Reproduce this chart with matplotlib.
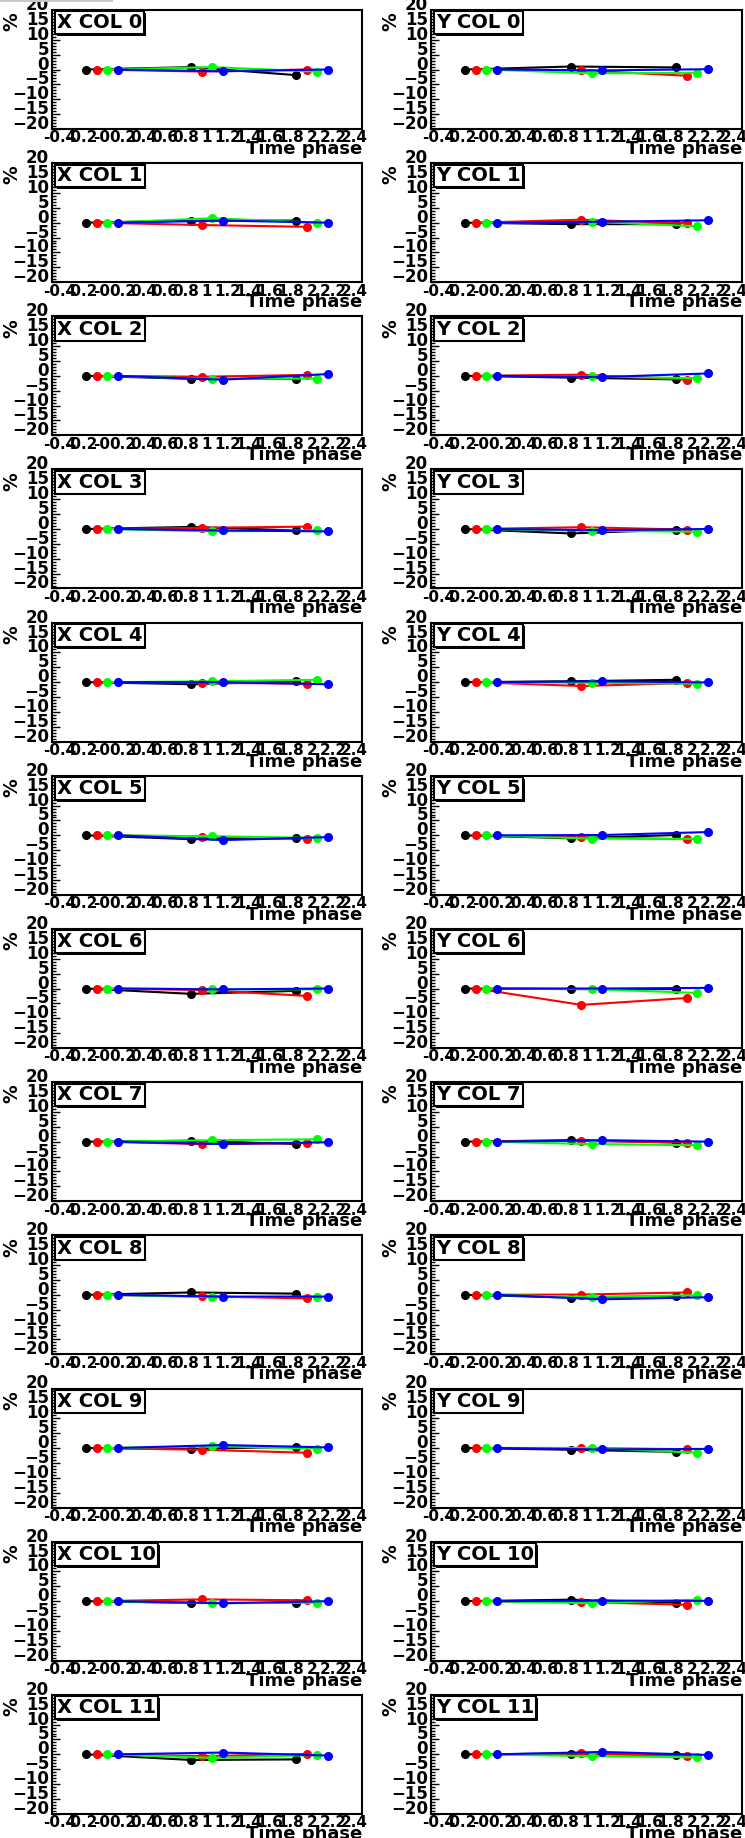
import numpy as np
import matplotlib.pyplot as plt
import matplotlib.patheffects as pe
from matplotlib.patches import Rectangle

plt.rcParams['font.family'] = 'DejaVu Sans'
plt.rcParams['font.weight'] = 'bold'

# time phases and the shift of each series inside a phase group
phases = np.array([0, 1, 2])
shifts = [-0.15, -0.05, 0.05, 0.15]
colors = ['black', '#ff0000', '#00ff00', '#0000ff']

# values in % for each column (phase 0, 1, 2)
x_black = [[0, 0.8, -1.9], [0, 0.7, 0.7], [0, -1.0, -1.0], [0, 0.7, -0.5],
           [0, -0.7, 0.3], [0, -1.3, -1.0], [0, -1.8, -0.8], [0, 0.3, -0.8],
           [0, 0.8, 0.4], [0, -0.3, 0.4], [0, -0.6, -0.6], [0, -1.9, -1.7]]
x_red = [[0, -0.7, 0.0], [0, -0.8, -1.4], [0, -0.3, 0.3], [0, 0.4, 0.8],
         [0, -0.2, -0.5], [0, -0.4, -1.1], [0, -0.5, -2.5], [0, -0.8, -0.5],
         [0, -0.5, -1.2], [0, -0.6, -1.6], [0, 0.6, 0.3], [0, -0.6, 0.1]]
x_green = [[0, 0.8, -0.7], [0, 1.5, 0.0], [0, -1.0, -0.9], [0, -0.8, -0.5],
           [0, 0.3, 0.8], [0, -0.3, -0.9], [0, -0.2, -0.3], [0, 0.5, 0.8],
           [0, -0.8, -0.6], [0, 0.6, -0.2], [0, -0.7, -0.5], [0, -1.2, -0.2]]
x_blue = [[0, -0.6, 0.0], [0, 0.7, 0.0], [0, -1.3, 0.6], [0, -0.5, -0.8],
          [0, 0.0, -0.7], [0, -1.6, -0.6], [0, -0.3, 0.0], [0, -0.8, -0.2],
          [0, -0.6, -0.6], [0, 1.0, 0.2], [0, -0.7, 0.0], [0, 0.6, -0.4]]

y_black = [[0, 1.0, 0.7], [0, -0.5, -0.5], [0, -0.6, -1.2], [0, -1.5, -0.2],
           [0, 0.3, 0.8], [0, -1.0, 0.1], [0, -0.2, -0.2], [0, 0.5, -0.3],
           [0, -0.9, -0.4], [0, -0.6, -1.3], [0, 0.5, -0.5], [0, 0.2, -0.2]]
y_red = [[0, -0.3, -2.1], [0, 1.0, -0.2], [0, 0.4, -1.3], [0, 0.6, -0.2],
         [0, -1.3, -0.3], [0, -0.7, -1.3], [0, -5.5, -3.2], [0, 0.3, -0.3],
         [0, 0.1, 0.8], [0, 0.0, -0.4], [0, -0.3, -1.2], [0, 0.3, -0.6]]
y_green = [[0, -1.3, -1.1], [0, 0.3, -1.2], [0, -0.2, -0.8], [0, -0.6, -0.9],
           [0, -0.2, -0.5], [0, -1.1, -1.2], [0, -0.2, -1.5], [0, -0.8, -1.2],
           [0, -0.7, -0.1], [0, 0.0, -1.6], [0, -0.7, 0.5], [0, -0.6, -1.0]]
y_blue = [[0, -0.3, 0.1], [0, 0.3, 0.8], [0, -0.4, 0.8], [0, -0.4, 0.0],
          [0, 0.3, -0.1], [0, 0.1, 1.1], [0, 0.0, 0.2], [0, 0.5, 0.0],
          [0, -1.5, -0.8], [0, -0.5, -0.3], [0, 0.2, 0.1], [0, 0.8, -0.2]]

xtick_vals = np.arange(-0.4, 2.41, 0.2)
xtick_text = ['-0.4', '-0.2', '-0', '0.2', '0.4', '0.6', '0.8', '1',
              '1.2', '1.4', '1.6', '1.8', '2', '2.2', '2.4']
ytick_vals = [-20, -15, -10, -5, 0, 5, 10, 15, 20]

W, H = 745, 1838
fig = plt.figure(figsize=(W / 100, H / 100), dpi=100)
fig.add_artist(Rectangle((0, 1 - 2 / H), 113 / W, 2 / H, transform=fig.transFigure,
                         color='#c8c8c8', lw=0))

cell_h = H / 12
frame_left = [52, 431]
frame_w = [310, 311]

panels = [('X', x_black, x_red, x_green, x_blue),
          ('Y', y_black, y_red, y_green, y_blue)]

for c, (name, blk, red, grn, blu) in enumerate(panels):
    for r in range(12):
        top = r * cell_h + 10
        ax = fig.add_axes([frame_left[c] / W, 1 - (top + 119) / H,
                           frame_w[c] / W, 119 / H])
        for series, col, s in zip([blk, red, grn, blu], colors, shifts):
            ax.plot(phases + s, series[r], color=col, lw=1.5, marker='o',
                    markersize=5.5, clip_on=False)
        ax.set_xlim(-0.475, 2.475)
        ax.set_ylim(-20, 20)
        ax.set_xticks(xtick_vals)
        ax.set_xticklabels(xtick_text)
        ax.set_yticks(ytick_vals)
        ax.set_yticks(np.arange(-20, 21, 1), minor=True)
        ax.tick_params(axis='x', length=0, pad=1, labelsize=11)
        ax.tick_params(axis='y', which='major', direction='in', length=6,
                       width=1, pad=2, labelsize=12)
        ax.tick_params(axis='y', which='minor', direction='in', length=3, width=1)
        for lab in ax.get_yticklabels():
            lab.set_va('baseline')
        for sp in ax.spines.values():
            sp.set_linewidth(1.5)
        t = ax.text(0.017, 0.972, f'{name} COL {r}', transform=ax.transAxes,
                    fontsize=14, fontweight='bold', ha='left', va='top',
                    bbox=dict(boxstyle='square,pad=0.1', fc='white', ec='black', lw=1.5))
        t.get_bbox_patch().set_path_effects(
            [pe.SimplePatchShadow(offset=(1.2, -1.2), shadow_rgbFace='black', alpha=1),
             pe.Normal()])
        ax.text(1.0, -0.21, 'Time phase', transform=ax.transAxes, fontsize=13,
                fontweight='bold', ha='right', va='baseline')
        ax.text(-0.13, 0.9, '%', transform=ax.transAxes, fontsize=13.5,
                fontweight='bold', rotation=90, ha='center', va='center')

fig.savefig('out.png', dpi=100)
